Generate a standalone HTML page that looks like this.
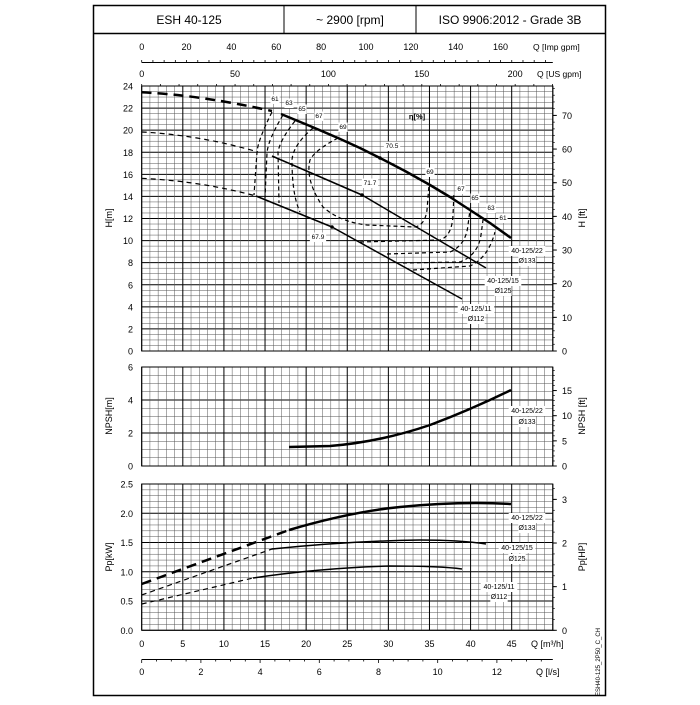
<!DOCTYPE html><html><head><meta charset="utf-8"><style>
body{margin:0;background:#fff}
svg{font-family:"Liberation Sans",sans-serif}
</style></head><body>
<svg id="s" width="700" height="700" viewBox="0 0 700 700" xmlns="http://www.w3.org/2000/svg">
<rect x="93.5" y="5.5" width="512" height="690" fill="#fff" stroke="#000" stroke-width="1.5"/>
<line x1="93" y1="33.5" x2="606" y2="33.5" stroke="#000" stroke-width="1.5"/>
<line x1="284" y1="5" x2="284" y2="33" stroke="#000"/>
<line x1="416" y1="5" x2="416" y2="33" stroke="#000"/>
<text x="189" y="24" font-size="12" text-anchor="middle">ESH 40-125</text>
<text x="350" y="24" font-size="12" text-anchor="middle">~ 2900 [rpm]</text>
<text x="510" y="24" font-size="12" text-anchor="middle">ISO 9906:2012 - Grade 3B</text>
<g id="grid"></g>
<g id="lbl" font-size="6.5" text-anchor="middle"></g>
<g fill="none" stroke="#000" stroke-linejoin="round">
<path d="M141.7,92.3 Q200,95 272,111" stroke-width="2.5" stroke-dasharray="10,6"/>
<path d="M281,114 L310,126 L338,138 L360,148 L380,158 L405,171 L430,185 L450,197 L470,210 L490,223 L511,238" stroke-width="2.5"/>
<path d="M141.7,132 Q200,135 258,152" stroke-width="1.2" stroke-dasharray="5,4"/>
<path d="M272,156 L362,195 L486,268" stroke-width="1.5"/>
<path d="M141.7,178.3 Q200,181 256,196" stroke-width="1.2" stroke-dasharray="5,4"/>
<path d="M256,196 L332,227 L462,299" stroke-width="1.5"/>
<g stroke-width="1.2" stroke-dasharray="4,3">
<path d="M272,112 Q258,140 257,152 L254,195"/>
<path d="M283,115 Q268,140 267,153 L265,198"/>
<path d="M295,121 Q280,140 278,152 L279,203"/>
<path d="M313,128 Q293,145 292,160 Q292,195 300,212"/>
<path d="M338,138 Q315,150 310,160 Q305,180 323,207 Q340,222 367,225 L415,227 Q425,225 427,210 L429,185"/>
<path d="M360,242 L440,240 Q452,236 453,215 L454,193"/>
<path d="M387,254 L450,252 Q466,245 468,225 L470,210"/>
<path d="M403,263 L460,262 Q478,255 481,235 L483,220"/>
<path d="M413,270 L470,266 Q488,258 495,232"/>
</g>
<path d="M289,447 L330,446 Q380,442 430,425 Q470,410 511,390" stroke-width="2.5"/>
<path d="M141.7,584 L289,530" stroke-width="2.5" stroke-dasharray="10,6"/>
<path d="M289,530 Q350,512 400,507 Q460,501 511,504" stroke-width="2.5"/>
<path d="M141.7,595 L272,549" stroke-width="1.2" stroke-dasharray="5,4"/>
<path d="M272,549 Q350,541 420,540 Q460,540 486,544" stroke-width="1.5"/>
<path d="M141.7,604 L253,578" stroke-width="1.2" stroke-dasharray="5,4"/>
<path d="M253,578 Q320,568 390,566 Q440,566 462,569" stroke-width="1.5"/>
</g>
<g fill="#000"><circle cx="380" cy="158" r="1.8"/><circle cx="362" cy="195" r="1.8"/><circle cx="332" cy="227" r="1.8"/></g>
</svg>
<script>
const NS="http://www.w3.org/2000/svg";
const g=document.getElementById('grid'),L=document.getElementById('lbl');
function el(p,t,a,txt){const e=document.createElementNS(NS,t);for(const k in a)e.setAttribute(k,a[k]);if(txt!=null)e.textContent=txt;p.appendChild(e);return e;}
function ln(x1,y1,x2,y2,w,c){el(g,'line',{x1,y1,x2,y2,stroke:c||'#000','stroke-width':w});}
function tx(x,y,s,sz,anc,extra){const a={x,y,'font-size':sz||9,'text-anchor':anc||'middle'};if(extra)Object.assign(a,extra);el(g,'text',a,s);}
const X0=141.7,XR=552.8,px=(XR-X0)/50;
const qx=q=>X0+q*px;
function panel(yt,yb,max,maj,mnr){
 const sc=(yb-yt)/max;
 for(let v=0;v<=max+1e-9;v+=mnr){const y=yb-v*sc;const isM=Math.abs(v/maj-Math.round(v/maj))<1e-6;ln(X0,y,XR,y,isM?1:0.5,isM?'#000':'#555');}
 for(let q=0;q<=50;q++){const x=qx(q);ln(x,yt,x,yb,q%5==0?1:0.5,q%5==0?'#000':'#555');}
 el(g,'rect',{x:X0,y:yt,width:XR-X0,height:yb-yt,fill:'none',stroke:'#000','stroke-width':1});
 return sc;
}
let s=panel(86,351,24,2,0.5);
for(let v=0;v<=24;v+=2)tx(133,351-v*s+3.5,v,9,'end');
for(let f=0;f<=70;f+=10){const y=351-f*0.3048*s;ln(XR,y,XR+4,y,1);tx(562,y+3.5,f,9,'start');}
for(let f=0;f<=78;f+=2){const y=351-f*0.3048*s;ln(XR,y,XR+2,y,0.7);}
tx(112,218,'H[m]',9,'middle',{transform:'rotate(-90 112 218)'});
tx(585,218,'H [ft]',9,'middle',{transform:'rotate(-90 585 218)'});
s=panel(367,466,6,2,0.5);
for(let v=0;v<=6;v+=2)tx(133,466-v*s+3.5,v,9,'end');
for(let f=0;f<=15;f+=5){const y=466-f*0.3048*s;ln(XR,y,XR+4,y,1);tx(562,y+3.5,f,9,'start');}
for(let f=0;f<=19;f++){const y=466-f*0.3048*s;ln(XR,y,XR+2,y,0.7);}
tx(112,416,'NPSH[m]',9,'middle',{transform:'rotate(-90 112 416)'});
tx(585,416,'NPSH [ft]',9,'middle',{transform:'rotate(-90 585 416)'});
s=panel(484,630.3,2.5,0.5,0.1);
for(let v=0;v<=2.5;v+=0.5)tx(133,630.3-v*s+3.5,v.toFixed(1),9,'end');
for(let h=0;h<=3;h++){const y=630.3-h*0.7457*s;ln(XR,y,XR+4,y,1);tx(562,y+3.5,h,9,'start');}
for(let h=0;h<=3.3;h+=0.25){const y=630.3-h*0.7457*s;ln(XR,y,XR+2,y,0.7);}
tx(112,557,'Pp[kW]',9,'middle',{transform:'rotate(-90 112 557)'});
tx(585,557,'Pp[HP]',9,'middle',{transform:'rotate(-90 585 557)'});
for(let q=0;q<=45;q+=5)tx(qx(q),647,q,9);
tx(531,647,'Q [m³/h]',9,'start');
ln(X0,659.5,XR,659.5,1);
for(let l=0;l<=13.8;l+=0.5){const x=qx(l*3.6);ln(x,659.5,x,l%2==0?663:661.5,0.8);}
for(let l=0;l<=12;l+=2)tx(qx(l*3.6),675,l,9);
tx(536,675,'Q [l/s]',9,'start');
ln(X0,62.5,XR,62.5,1);
for(let i=0;i<=182;i+=5){const x=qx(i/3.666);ln(x,60,x,62.5,0.8);}
for(let i=0;i<=160;i+=20)tx(qx(i/3.666),50,i,9);
tx(533,50,'Q [Imp gpm]',8.5,'start');
for(let u=0;u<=200;u+=50)tx(qx(u/4.403),77,u,9);
for(let u=0;u<=220;u+=10){const x=qx(u/4.403);ln(x,84,x,86,0.8);}
tx(537,77,'Q [US gpm]',8.5,'start');
tx(600,662,'ESH40-125_2P50_C_CH',6,'middle',{transform:'rotate(-90 600 662)'});
function lab(x,y,t,sz){const w=t.length*sz*0.55+2;el(L,'rect',{x:x-w/2,y:y-sz,width:w,height:sz+3,fill:'#fff'});el(L,'text',{x,y,'font-size':sz},t);}
[[275,101,'61'],[289,105,'63'],[302,111,'65'],[319,118,'67'],[343,129,'69'],[392,148,'70.5'],[430,174,'69'],[461,191,'67'],[475,200,'65'],[491,210,'63'],[503,220,'61'],[370,185,'71.7'],[318,239,'67.9']].forEach(a=>lab(a[0],a[1],a[2],6.5));
el(L,'text',{x:417,y:119,'font-size':7.5,'font-weight':'bold'},'η[%]');
[[527,253,'40-125/22'],[527,263,'Ø133'],[503,283,'40-125/15'],[503,293,'Ø125'],[476,311,'40-125/11'],[476,321,'Ø112'],
 [527,413,'40-125/22'],[527,424,'Ø133'],
 [527,520,'40-125/22'],[527,530,'Ø133'],[517,550,'40-125/15'],[517,561,'Ø125'],[499,589,'40-125/11'],[499,599,'Ø112']].forEach(a=>lab(a[0],a[1],a[2],7));
</script>
</body></html>
